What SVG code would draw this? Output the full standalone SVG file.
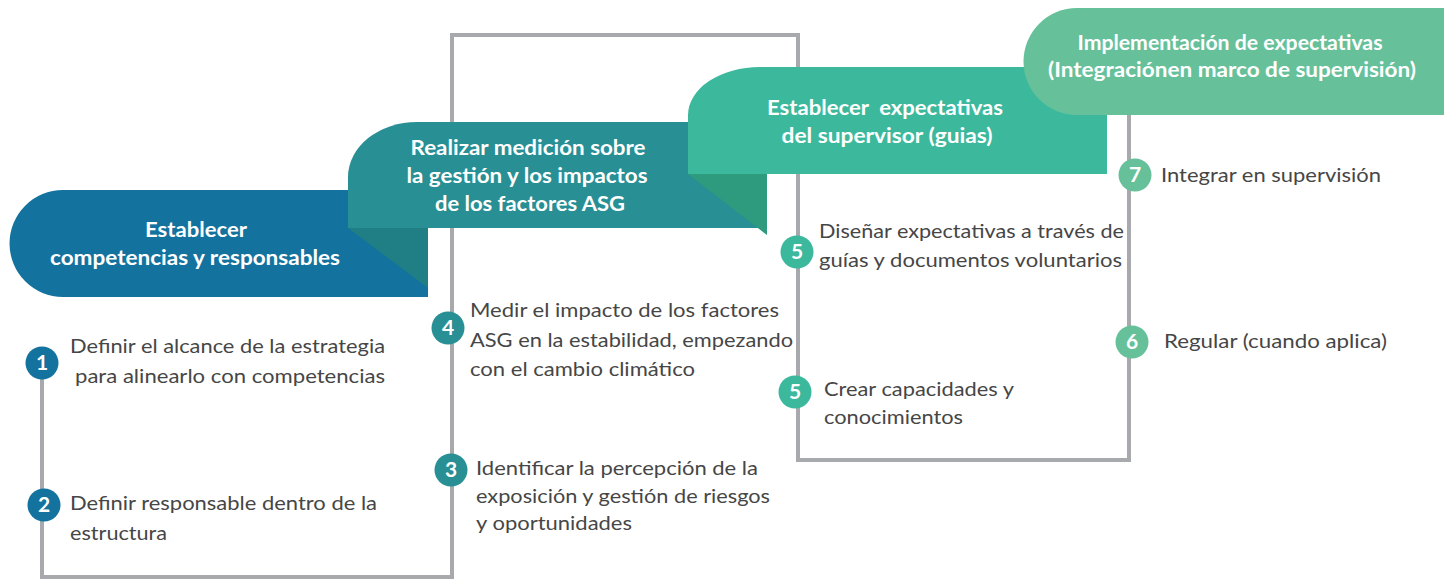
<svg xmlns="http://www.w3.org/2000/svg" width="1444" height="581" viewBox="0 0 1444 581">
<style>
.hd{font-family:Lato,"Open Sans","Liberation Sans",sans-serif;font-weight:bold;font-size:21px;fill:#ffffff;text-anchor:middle;white-space:pre}
.tx{font-family:Lato,"Open Sans","Liberation Sans",sans-serif;font-size:19px;fill:#464646}
.num{font-family:Lato,"Open Sans","Liberation Sans",sans-serif;font-weight:bold;font-size:21px;fill:#ffffff;text-anchor:middle}
.c1{fill:#13729e}.c2{fill:#288f94}.c3{fill:#3cb99c}.c4{fill:#66c19b}
.line{fill:none;stroke:#a8a9ad;stroke-width:4}
</style>
<rect width="1444" height="581" fill="#ffffff"/>
<g id="connectors">
<path class="line" d="M42,363 V577 H452 V35 H798 V460 H1129 V115"/>
</g>
<g id="header1">
<path class="c1" d="M63,190 H428 V297 H63 A53.5,53.5 0 0 1 63,190 Z"/>
<text class="hd" x="196" y="237" textLength="102" lengthAdjust="spacingAndGlyphs">Establecer</text>
<text class="hd" x="195" y="265" textLength="290" lengthAdjust="spacingAndGlyphs">competencias y responsables</text>
</g>
<g id="header2">
<path class="c2" d="M348,228 V177 A69,55 0 0 1 417,122 H767 V228 Z"/>
<path fill="#207f85" d="M348,228 L428,228 L428,288 Z"/>
<text class="hd" x="528" y="155" textLength="235" lengthAdjust="spacingAndGlyphs">Realizar medición sobre</text>
<text class="hd" x="527" y="183" textLength="241" lengthAdjust="spacingAndGlyphs">la gestión y los impactos</text>
<text class="hd" x="530" y="211" textLength="190" lengthAdjust="spacingAndGlyphs">de los factores ASG</text>
</g>
<g id="header3">
<path class="c3" d="M688,174 V115 A72,48 0 0 1 760,67 H1107 V174 Z"/>
<path fill="#2e9a7e" d="M688,174 L767,174 L767,235 Z"/>
<text class="hd" x="885" y="115" textLength="236" lengthAdjust="spacingAndGlyphs" xml:space="preserve">Establecer  expectativas</text>
<text class="hd" x="887" y="143" textLength="211" lengthAdjust="spacingAndGlyphs">del supervisor (guias)</text>
</g>
<g id="header4">
<path class="c4" d="M1077,8 H1444 V115 H1077 A53.5,53.5 0 0 1 1077,8 Z"/>
<text class="hd" x="1230" y="50" textLength="305" lengthAdjust="spacingAndGlyphs">Implementación de expectativas</text>
<text class="hd" x="1232" y="77" textLength="368" lengthAdjust="spacingAndGlyphs">(Integraciónen marco de supervisión)</text>
</g>
<g id="step1">
<circle class="c1" cx="42" cy="363" r="16.5"/>
<text class="num" x="42" y="370">1</text>
<text class="tx" x="70" y="353" textLength="315" lengthAdjust="spacingAndGlyphs">Definir el alcance de la estrategia</text>
<text class="tx" x="75" y="383" textLength="310" lengthAdjust="spacingAndGlyphs">para alinearlo con competencias</text>
</g>
<g id="step2">
<circle class="c1" cx="44" cy="505" r="16.5"/>
<text class="num" x="44" y="512">2</text>
<text class="tx" x="70" y="510" textLength="307" lengthAdjust="spacingAndGlyphs">Definir responsable dentro de la</text>
<text class="tx" x="70" y="540" textLength="97" lengthAdjust="spacingAndGlyphs">estructura</text>
</g>
<g id="step4">
<circle class="c2" cx="448" cy="328" r="16.5"/>
<text class="num" x="448" y="335">4</text>
<text class="tx" x="470" y="317" textLength="309" lengthAdjust="spacingAndGlyphs">Medir el impacto de los factores</text>
<text class="tx" x="470" y="347" textLength="323" lengthAdjust="spacingAndGlyphs">ASG en la estabilidad, empezando</text>
<text class="tx" x="470" y="376" textLength="225" lengthAdjust="spacingAndGlyphs">con el cambio climático</text>
</g>
<g id="step3">
<circle class="c2" cx="451" cy="470" r="16.5"/>
<text class="num" x="451" y="477">3</text>
<text class="tx" x="476" y="475" textLength="282" lengthAdjust="spacingAndGlyphs">Identificar la percepción de la</text>
<text class="tx" x="476" y="503" textLength="294" lengthAdjust="spacingAndGlyphs">exposición y gestión de riesgos</text>
<text class="tx" x="476" y="530" textLength="156" lengthAdjust="spacingAndGlyphs">y oportunidades</text>
</g>
<g id="step5a">
<circle class="c3" cx="797" cy="252" r="16.5"/>
<text class="num" x="797" y="259">5</text>
<text class="tx" x="819" y="238" textLength="305" lengthAdjust="spacingAndGlyphs">Diseñar expectativas a través de</text>
<text class="tx" x="819" y="267" textLength="303" lengthAdjust="spacingAndGlyphs">guías y documentos voluntarios</text>
</g>
<g id="step5b">
<circle class="c3" cx="795" cy="392" r="16.5"/>
<text class="num" x="795" y="399">5</text>
<text class="tx" x="824" y="396" textLength="190" lengthAdjust="spacingAndGlyphs">Crear capacidades y</text>
<text class="tx" x="824" y="424" textLength="139" lengthAdjust="spacingAndGlyphs">conocimientos</text>
</g>
<g id="step7">
<circle class="c4" cx="1135" cy="175" r="16.5"/>
<text class="num" x="1135" y="182">7</text>
<text class="tx" x="1161" y="182" textLength="220" lengthAdjust="spacingAndGlyphs">Integrar en supervisión</text>
</g>
<g id="step6">
<circle class="c4" cx="1132" cy="342" r="16.5"/>
<text class="num" x="1132" y="349">6</text>
<text class="tx" x="1164" y="348" textLength="223" lengthAdjust="spacingAndGlyphs">Regular (cuando aplica)</text>
</g>
</svg>
